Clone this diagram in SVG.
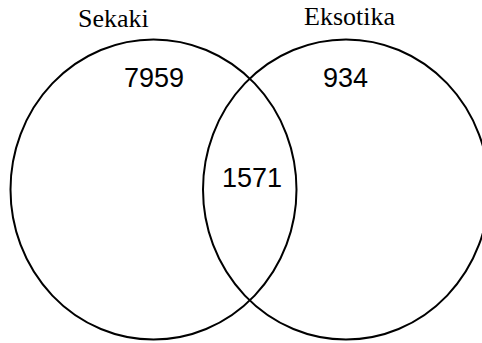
<svg xmlns="http://www.w3.org/2000/svg" width="482" height="343" viewBox="0 0 482 343">
  <style>
    .set { fill: none; stroke: #000; stroke-width: 2; }
    .title { font-family: "Liberation Serif", "Times New Roman", serif; font-size: 26px; fill: #000; }
    .count { font-family: "Liberation Sans", Arial, sans-serif; font-size: 27px; fill: #000; }
  </style>
  <rect width="482" height="343" fill="#fff"/>
  <g id="connectors"></g>
  <g id="set-sekaki">
    <ellipse class="set" cx="153.5" cy="189.5" rx="143" ry="150"/>
    <text class="title" x="78" y="27">Sekaki</text>
  </g>
  <g id="set-eksotika">
    <ellipse class="set" cx="346" cy="189.5" rx="143" ry="150"/>
    <text class="title" x="304" y="25">Eksotika</text>
  </g>
  <g id="count-sekaki">
    <text class="count" x="124" y="87">7959</text>
  </g>
  <g id="count-eksotika">
    <text class="count" x="323" y="87">934</text>
  </g>
  <g id="count-both">
    <text class="count" x="222" y="187">1571</text>
  </g>
</svg>
